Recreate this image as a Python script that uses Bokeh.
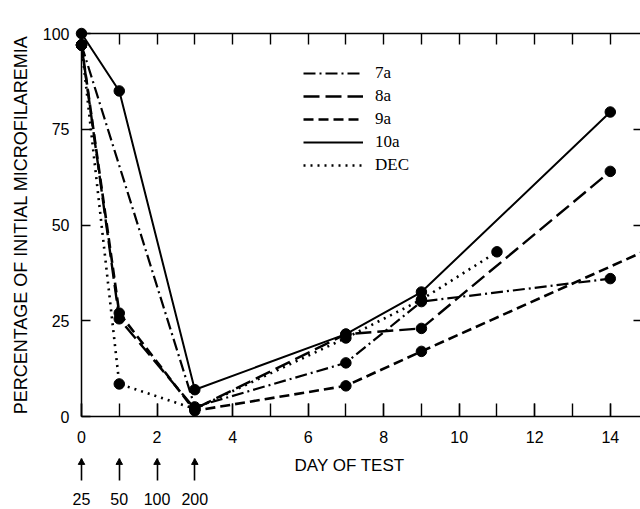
from bokeh.plotting import figure
from bokeh.models import (Range1d, LinearAxis, SingleIntervalTicker, FixedTicker,
                          Legend, LegendItem)
from bokeh.layouts import column
from bokeh.embed import file_html
from bokeh.resources import INLINE
from bokeh.core.properties import value

# ---------------- data ----------------
days_7a = [0, 3, 7, 9, 14]
pct_7a = [97, 2.5, 14, 30, 36]

days_8a = [0, 1, 3, 7, 9, 14]
pct_8a = [97, 25.5, 2, 21.5, 23, 64]

days_9a = [0, 1, 3, 7, 9, 16]
pct_9a = [97, 27, 1.5, 8, 17, 48]

days_10a = [0, 1, 3, 7, 9, 14]
pct_10a = [100, 85, 7, 21.5, 32.5, 79.5]

days_dec = [0, 1, 3, 7, 9, 11]
pct_dec = [97, 8.5, 2, 20.5, 30.5, 43]

series_names = ["7a", "8a", "9a", "10a", "DEC"]
y_ticks = [0, 25, 50, 75, 100]
right_ticks = [25, 50, 75]
day_ticks = list(range(0, 16))
dose_days = [0, 1, 2, 3]
dose_labels = ["25", "50", "100", "200"]
x_title = "DAY OF TEST"
y_title = "PERCENTAGE OF INITIAL MICROFILAREMIA"

# ---------------- layout / style ----------------
W = 640
FRAME_LEFT = 81
FRAME_TOP = 33
FRAME_BOTTOM = 32
FRAME_H = 383
FRAME_W = W - FRAME_LEFT
X_END = 14.8
P2_FRAME_H = 32
P2_BOTTOM = 29

SANS = "Liberation Sans"
SERIF = "Liberation Serif"

styles = {
    "7a": dict(line_dash="12 4 2 4", line_width=2.2),
    "8a": dict(line_dash="16 6", line_width=2.4),
    "9a": dict(line_dash="10 5", line_width=2.6),
    "10a": dict(line_dash="solid", line_width=2.0),
    "DEC": dict(line_dash="2 5", line_width=2.6),
}
series_data = {
    "7a": (days_7a, pct_7a),
    "8a": (days_8a, pct_8a),
    "9a": (days_9a, pct_9a),
    "10a": (days_10a, pct_10a),
    "DEC": (days_dec, pct_dec),
}

x_range = Range1d(0, X_END)
p = figure(frame_width=FRAME_W, frame_height=FRAME_H,
           x_range=x_range, y_range=Range1d(0, 100),
           x_axis_type=None, y_axis_type=None,
           output_backend="svg", toolbar_location=None,
           min_border_left=FRAME_LEFT, min_border_right=0,
           min_border_top=FRAME_TOP, min_border_bottom=FRAME_BOTTOM)
p.outline_line_color = None
p.background_fill_color = "white"
p.border_fill_color = "white"


def style_axis(ax, tick_len, line=True):
    ax.axis_line_color = "black" if line else None
    ax.axis_line_width = 1.5
    ax.major_tick_line_color = "black"
    ax.minor_tick_line_color = "black"
    ax.major_tick_line_width = 1.4
    ax.minor_tick_line_width = 1.4
    ax.major_tick_in = tick_len
    ax.major_tick_out = 0
    ax.minor_tick_in = tick_len
    ax.minor_tick_out = 0
    ax.major_label_text_font = SANS
    ax.major_label_text_font_size = "16px"
    ax.major_label_text_color = "black"


# bottom axis
xb = LinearAxis(ticker=SingleIntervalTicker(interval=2, num_minor_ticks=2))
style_axis(xb, 13)
xb.major_label_standoff = 14
p.add_layout(xb, "below")

# top axis (tick marks only)
xt = LinearAxis(ticker=FixedTicker(ticks=[], minor_ticks=day_ticks))
style_axis(xt, 11)
p.add_layout(xt, "above")

# left axis
yl = LinearAxis(ticker=FixedTicker(ticks=y_ticks, minor_ticks=[]))
style_axis(yl, 9)
yl.major_label_standoff = 12
yl.axis_label = y_title
yl.axis_label_text_font = SANS
yl.axis_label_text_font_size = "18px"
yl.axis_label_text_font_style = "normal"
yl.axis_label_text_color = "black"
yl.axis_label_standoff = 9
p.add_layout(yl, "left")

# right axis (tick marks only; its line is cut off in the original)
yr = LinearAxis(ticker=FixedTicker(ticks=[], minor_ticks=right_ticks))
style_axis(yr, 7, line=False)
p.add_layout(yr, "right")

items = []
for name in series_names:
    xs, ys = series_data[name]
    st = styles[name]
    r = p.line(xs, ys, line_color="black", line_cap="butt", **st)
    dots = p.scatter(xs, ys, marker="circle", size=10.5, fill_color="black",
                     line_color="black")
    dots.level = "overlay"
    items.append(LegendItem(label=name, renderers=[r]))

legend = Legend(items=items, location=(222, 241),
                background_fill_alpha=0, border_line_color=None,
                label_text_font=SERIF, label_text_font_size="17px",
                label_text_color="black",
                glyph_width=60, glyph_height=20, label_height=20,
                spacing=3, label_standoff=12, padding=0, margin=0)
p.add_layout(legend)

# ---------------- dose arrows and x title below ----------------
p2 = figure(frame_width=FRAME_W, frame_height=P2_FRAME_H,
            x_range=x_range, y_range=Range1d(0, P2_FRAME_H),
            x_axis_type=None, y_axis_type=None,
            output_backend="svg", toolbar_location=None,
            min_border_left=FRAME_LEFT, min_border_right=0,
            min_border_top=0, min_border_bottom=P2_BOTTOM)
p2.outline_line_color = None
p2.background_fill_color = "white"
p2.border_fill_color = "white"

dose_axis = LinearAxis(ticker=FixedTicker(ticks=dose_days, minor_ticks=[]))
style_axis(dose_axis, 22, line=False)
dose_axis.major_tick_line_width = 1.6
dose_axis.major_label_overrides = dict(zip(dose_days, dose_labels))
dose_axis.major_label_standoff = 12
p2.add_layout(dose_axis, "below")

heads = p2.scatter(x=dose_days, y=[18] * len(dose_days), marker="triangle",
                   size=6.5, fill_color="black", line_color="black")
heads.level = "overlay"
p2.text(x=[7.1], y=[15], text=[x_title], text_align="center",
        text_baseline="middle", text_font=value(SANS),
        text_font_size="17px", text_color="black")

layout = column(p, p2, spacing=0)

with open("out.html", "w") as f:
    f.write(file_html(layout, INLINE))
